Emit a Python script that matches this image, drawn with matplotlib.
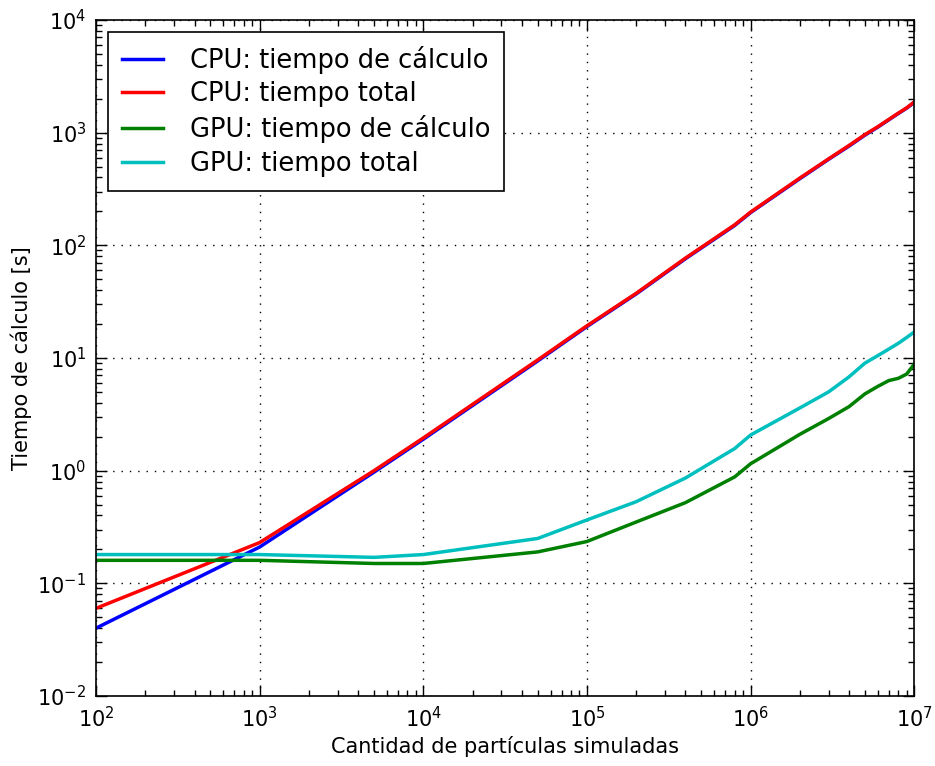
import numpy as np
import matplotlib
matplotlib.use("Agg")
import matplotlib.pyplot as plt

# particle counts (shared by all series)
n_particles = [1e2, 1e3, 5e3, 1e4, 5e4, 1e5, 2e5, 4e5, 8e5, 1e6,
               2e6, 3e6, 4e6, 5e6, 6e6, 7e6, 8e6, 9e6, 1e7]

cpu_calc = [0.04, 0.21, 0.97, 1.9, 9.4, 19, 37, 76, 150, 195,
            390, 580, 760, 950, 1120, 1300, 1480, 1650, 1850]
cpu_total = [0.06, 0.23, 1.0, 1.95, 9.6, 19.3, 37.5, 77, 152, 197,
             395, 585, 770, 960, 1130, 1310, 1490, 1660, 1870]
gpu_calc = [0.16, 0.16, 0.15, 0.15, 0.19, 0.235, 0.35, 0.52, 0.88, 1.15,
            2.1, 2.9, 3.7, 4.8, 5.6, 6.3, 6.6, 7.2, 8.8]
gpu_total = [0.18, 0.18, 0.17, 0.18, 0.25, 0.365, 0.53, 0.86, 1.57, 2.07,
             3.6, 5.0, 6.8, 9.0, 10.5, 12.0, 13.5, 15.2, 17]

labels = ["CPU: tiempo de cálculo", "CPU: tiempo total",
          "GPU: tiempo de cálculo", "GPU: tiempo total"]
colors = ["b", "r", "g", "c"]

fig = plt.figure(figsize=(9.35, 7.66), dpi=100)
ax = fig.add_axes([0.1027, 0.0914, 0.875, 0.8825])

for ys, lab, col in zip([cpu_calc, cpu_total, gpu_calc, gpu_total], labels, colors):
    ax.loglog(n_particles, ys, color=col, linewidth=2.5, label=lab)

ax.set_xlim(1e2, 1e7)
ax.set_ylim(1e-2, 1e4)
ax.grid(True, which="major", color="k", linestyle=(0, (1, 5)), linewidth=1)

ax.tick_params(which="both", direction="in", top=True, right=True, labelsize=15)
ax.tick_params(which="major", length=8, width=1, pad=7)
ax.tick_params(which="minor", length=4, width=1)
for sp in ax.spines.values():
    sp.set_linewidth(1.2)

ax.set_xlabel("Cantidad de partículas simuladas", fontsize=15)
ax.set_ylabel("Tiempo de cálculo [s]", fontsize=15)

leg = ax.legend(loc="upper left", fontsize=18.5, fancybox=False, framealpha=1,
                edgecolor="k", handlelength=1.6, handletextpad=1.05,
                borderpad=0.55, labelspacing=0.3, borderaxespad=0.45)
leg.get_frame().set_linewidth(1.2)

fig.savefig("out.png", dpi=100)
